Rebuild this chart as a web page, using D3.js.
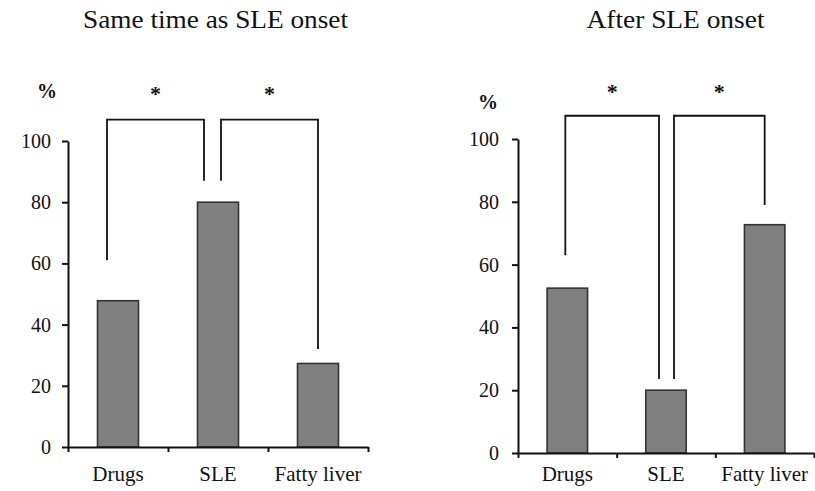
<!DOCTYPE html>
<html><head><meta charset="utf-8">
<script src="https://cdn.jsdelivr.net/npm/d3@7"></script>
<style>body{margin:0;background:#fff}svg{display:block}text{font-family:"Liberation Serif","Times New Roman",serif;fill:#111}</style>
</head><body>
<script>
const categories = ["Drugs", "SLE", "Fatty liver"];
const titles = ["Same time as SLE onset", "After SLE onset"];
const sameTimeValues = [47.8, 80, 27.3];
const afterValues = [52.5, 20, 72.7];
const yTicks = [0, 20, 40, 60, 80, 100];
// significance brackets: [from category, to category, left leg end, right leg end, top]
const sameTimeBrackets = [["Drugs", "SLE", 61, 87, 107], ["SLE", "Fatty liver", 87, 32, 107]];
const afterBrackets = [["Drugs", "SLE", 63, 23.6, 107.4], ["SLE", "Fatty liver", 23.6, 79, 107.4]];

const W = 815, H = 491;
const svg = d3.select("body").append("svg").attr("width", W).attr("height", H);

const panels = [
  {title: titles[0], values: sameTimeValues, brackets: sameTimeBrackets,
   x0: 68, x1: 368, y0: 447, y1: 141, titleX: 215.5, pctX: 47, pctY: 98, labPad: 11,
   legOff: [[-11, -14], [3, 0]], tlen: 265, starOff: 19},
  {title: titles[1], values: afterValues, brackets: afterBrackets,
   x0: 518, x1: 814, y0: 453, y1: 139, titleX: 675.5, pctX: 488, pctY: 109, labPad: 13,
   legOff: [[-2, -7], [8, 0]], tlen: 178, starOff: 17}
];
const labelBaseline = 481;

panels.forEach(p => {
  const g = svg.append("g");
  const y = d3.scaleLinear().domain([0, 100]).range([p.y0, p.y1]);
  const x = d3.scaleBand().domain(categories).range([p.x0, p.x1]).paddingInner(0.59).paddingOuter(0.295);
  const xb = d3.scaleLinear().domain([0, 3]).range([p.x0, p.x1]);

  g.append("text").attr("x", p.titleX).attr("y", 28).attr("text-anchor", "middle")
    .attr("font-size", 26).attr("textLength", p.tlen).attr("lengthAdjust", "spacingAndGlyphs").text(p.title);

  g.append("text").attr("x", p.pctX).attr("y", p.pctY).attr("text-anchor", "middle")
    .attr("font-size", 20).attr("font-weight", "bold").text("%");

  // bars
  g.selectAll("rect.bar").data(p.values).join("rect").attr("class", "bar")
    .attr("x", (d, i) => x(categories[i])).attr("width", x.bandwidth())
    .attr("y", d => y(d)).attr("height", d => y(0) - y(d))
    .attr("fill", "#808080").attr("stroke", "#333").attr("stroke-width", 1.6);

  // y axis
  const ya = g.append("g").attr("transform", `translate(${p.x0},0)`)
    .call(d3.axisLeft(y).tickValues(yTicks).tickSize(6).tickSizeOuter(0).tickPadding(p.labPad));
  ya.select(".domain").attr("stroke", "#111").attr("stroke-width", 2);
  ya.selectAll(".tick line").attr("stroke", "#111").attr("stroke-width", 2);
  ya.selectAll(".tick text").attr("font-size", 20);

  // x axis boundaries
  const xa = g.append("g").attr("transform", `translate(0,${p.y0})`)
    .call(d3.axisBottom(xb).tickValues([0, 1, 2, 3]).tickSize(5).tickSizeOuter(0).tickFormat(""));
  xa.select(".domain").attr("stroke", "#111").attr("stroke-width", 2);
  xa.selectAll(".tick line").attr("stroke", "#111").attr("stroke-width", 2);

  const xl = g.append("g").attr("transform", `translate(0,${labelBaseline})`)
    .call(d3.axisBottom(x).tickSize(0).tickPadding(0));
  xl.select(".domain").remove();
  xl.selectAll(".tick text").attr("font-size", 21).attr("dy", 0).attr("y", 0);

  // brackets
  p.brackets.forEach((b, i) => {
    const xa_ = x(b[0]) + x.bandwidth() / 2 + p.legOff[i][0];
    const xb_ = x(b[1]) + x.bandwidth() / 2 + p.legOff[i][1];
    const path = d3.path();
    path.moveTo(xa_, y(b[2])); path.lineTo(xa_, y(b[4])); path.lineTo(xb_, y(b[4])); path.lineTo(xb_, y(b[3]));
    g.append("path").attr("d", path.toString()).attr("fill", "none").attr("stroke", "#111").attr("stroke-width", 1.8);
    g.append("text").attr("x", (xa_ + xb_) / 2).attr("y", y(b[4]) - p.starOff).attr("text-anchor", "middle")
      .attr("font-size", 22).attr("font-weight", "bold").text("*");
  });
});
</script>
</body></html>
